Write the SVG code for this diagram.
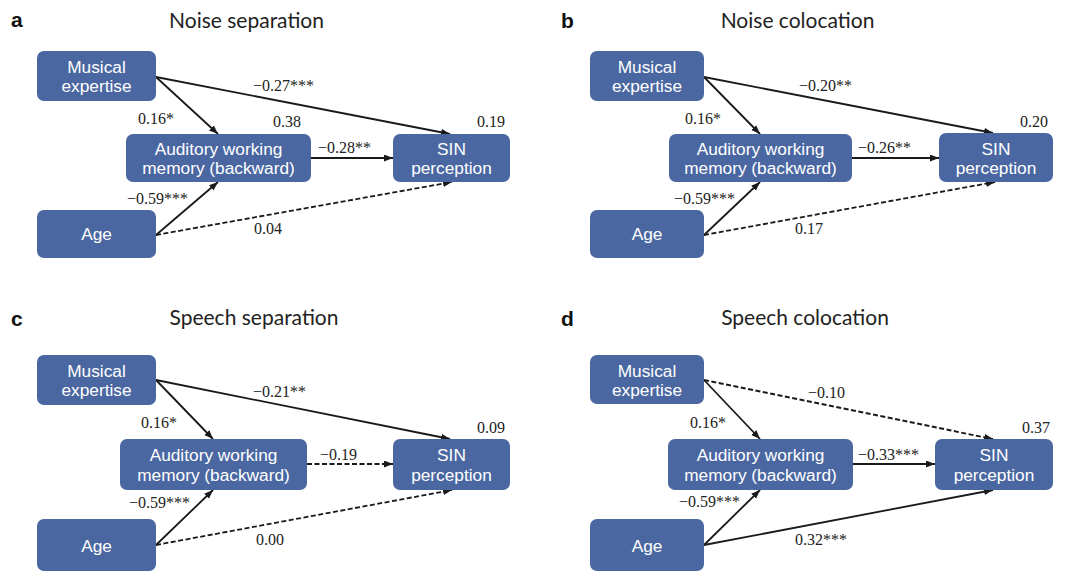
<svg xmlns="http://www.w3.org/2000/svg" width="1065" height="572" viewBox="0 0 1065 572">
<defs>
<marker id="ah" markerUnits="userSpaceOnUse" markerWidth="10" markerHeight="8" refX="9" refY="3.5" orient="auto">
<path d="M0,0 L9,3.5 L0,7 z" fill="#1a1a1a"/>
</marker>
<style>
.n rect{fill:#4a67a2;}
.n text{fill:#ffffff;font-family:"Liberation Sans",Arial,sans-serif;font-size:17.3px;text-anchor:middle;}
.c line{stroke:#1a1a1a;stroke-width:1.8;fill:none;marker-end:url(#ah);}
.c line.d{stroke-dasharray:5,2.5;}
.l{font-family:"Liberation Serif",serif;font-size:16px;fill:#222;}
.t{font-family:Lato,"Liberation Sans",sans-serif;font-size:21px;fill:#222;text-anchor:middle;}
.p{font-family:"Liberation Sans",Arial,sans-serif;font-size:21px;font-weight:bold;fill:#111;}
</style>
</defs>
<rect width="1065" height="572" fill="#ffffff"/>

<!-- Panel letters and titles -->
<text class="p" x="11" y="27">a</text>
<text class="t" x="246.5" y="28">Noise separation</text>
<text class="p" x="561" y="28">b</text>
<text class="t" x="797.5" y="28">Noise colocation</text>
<text class="p" x="11" y="326">c</text>
<text class="t" x="254" y="325">Speech separation</text>
<text class="p" x="561" y="326">d</text>
<text class="t" x="805" y="325">Speech colocation</text>

<!-- Connectors -->
<g id="connectors" class="c">
<line x1="156" y1="77" x2="218" y2="134"/>
<line x1="156" y1="77" x2="450" y2="134"/>
<line x1="311" y1="158" x2="393" y2="158"/>
<line x1="156" y1="235" x2="218" y2="182"/>
<line class="d" x1="156" y1="235" x2="452" y2="182"/>

<line x1="704" y1="77" x2="760" y2="134"/>
<line x1="704" y1="77" x2="993" y2="133"/>
<line x1="852" y1="158" x2="939" y2="158"/>
<line x1="704" y1="235" x2="760" y2="182"/>
<line class="d" x1="704" y1="235" x2="995" y2="182"/>

<line x1="156" y1="380" x2="213" y2="439"/>
<line x1="156" y1="380" x2="450" y2="439"/>
<line class="d" x1="307" y1="464" x2="393" y2="464"/>
<line x1="156" y1="545" x2="213" y2="490"/>
<line class="d" x1="156" y1="545" x2="452" y2="490"/>

<line x1="704" y1="380" x2="760" y2="439"/>
<line class="d" x1="704" y1="380" x2="993" y2="439"/>
<line x1="853" y1="464" x2="935" y2="464"/>
<line x1="704" y1="545" x2="760" y2="490"/>
<line x1="704" y1="545" x2="993" y2="490"/>
</g>

<!-- Panel a nodes -->
<g id="a-musical" class="n"><rect x="37" y="51" width="119" height="50" rx="7"/><text x="96.5" y="72.5">Musical<tspan x="96.5" dy="19.5">expertise</tspan></text></g>
<g id="a-awm" class="n"><rect x="126" y="134" width="185" height="48" rx="7"/><text x="218.5" y="154.5">Auditory working<tspan x="218.5" dy="19.5">memory (backward)</tspan></text></g>
<g id="a-sin" class="n"><rect x="393" y="134" width="117" height="48" rx="7"/><text x="451.5" y="154.5">SIN<tspan x="451.5" dy="19.5">perception</tspan></text></g>
<g id="a-age" class="n"><rect x="37" y="210" width="119" height="48" rx="7"/><text x="96.5" y="240">Age</text></g>

<!-- Panel b nodes -->
<g id="b-musical" class="n"><rect x="590" y="51" width="114" height="50" rx="7"/><text x="647" y="72.5">Musical<tspan x="647" dy="19.5">expertise</tspan></text></g>
<g id="b-awm" class="n"><rect x="669" y="134" width="183" height="48" rx="7"/><text x="760.5" y="154.5">Auditory working<tspan x="760.5" dy="19.5">memory (backward)</tspan></text></g>
<g id="b-sin" class="n"><rect x="939" y="133" width="114" height="49" rx="7"/><text x="996" y="154.5">SIN<tspan x="996" dy="19.5">perception</tspan></text></g>
<g id="b-age" class="n"><rect x="590" y="210" width="114" height="48" rx="7"/><text x="647" y="240">Age</text></g>

<!-- Panel c nodes -->
<g id="c-musical" class="n"><rect x="37" y="355" width="119" height="50" rx="7"/><text x="96.5" y="376.5">Musical<tspan x="96.5" dy="19.5">expertise</tspan></text></g>
<g id="c-awm" class="n"><rect x="120" y="439" width="187" height="51" rx="7"/><text x="213.5" y="461">Auditory working<tspan x="213.5" dy="19.5">memory (backward)</tspan></text></g>
<g id="c-sin" class="n"><rect x="393" y="439" width="117" height="51" rx="7"/><text x="451.5" y="461">SIN<tspan x="451.5" dy="19.5">perception</tspan></text></g>
<g id="c-age" class="n"><rect x="37" y="519" width="119" height="52" rx="7"/><text x="96.5" y="552">Age</text></g>

<!-- Panel d nodes -->
<g id="d-musical" class="n"><rect x="590" y="355" width="114" height="49" rx="7"/><text x="647" y="376.5">Musical<tspan x="647" dy="19.5">expertise</tspan></text></g>
<g id="d-awm" class="n"><rect x="668" y="439" width="185" height="51" rx="7"/><text x="760.5" y="461">Auditory working<tspan x="760.5" dy="19.5">memory (backward)</tspan></text></g>
<g id="d-sin" class="n"><rect x="935" y="439" width="118" height="51" rx="7"/><text x="994" y="461">SIN<tspan x="994" dy="19.5">perception</tspan></text></g>
<g id="d-age" class="n"><rect x="590" y="519" width="114" height="52" rx="7"/><text x="647" y="552">Age</text></g>

<!-- Labels -->
<g id="labels">
<text class="l" x="253" y="91">−0.27***</text>
<text class="l" x="138" y="124">0.16*</text>
<text class="l" x="273" y="127">0.38</text>
<text class="l" x="477" y="127">0.19</text>
<text class="l" x="318" y="153">−0.28**</text>
<text class="l" x="127" y="204">−0.59***</text>
<text class="l" x="254" y="234">0.04</text>

<text class="l" x="799" y="91">−0.20**</text>
<text class="l" x="685" y="124">0.16*</text>
<text class="l" x="1020" y="127">0.20</text>
<text class="l" x="858" y="153">−0.26**</text>
<text class="l" x="674" y="204">−0.59***</text>
<text class="l" x="795" y="234">0.17</text>

<text class="l" x="253" y="397">−0.21**</text>
<text class="l" x="141" y="428">0.16*</text>
<text class="l" x="477" y="433">0.09</text>
<text class="l" x="320" y="460">−0.19</text>
<text class="l" x="129" y="508">−0.59***</text>
<text class="l" x="256" y="545">0.00</text>

<text class="l" x="808" y="398">−0.10</text>
<text class="l" x="690" y="428">0.16*</text>
<text class="l" x="1022" y="433">0.37</text>
<text class="l" x="858" y="460">−0.33***</text>
<text class="l" x="679" y="507">−0.59***</text>
<text class="l" x="795" y="545">0.32***</text>
</g>
</svg>
